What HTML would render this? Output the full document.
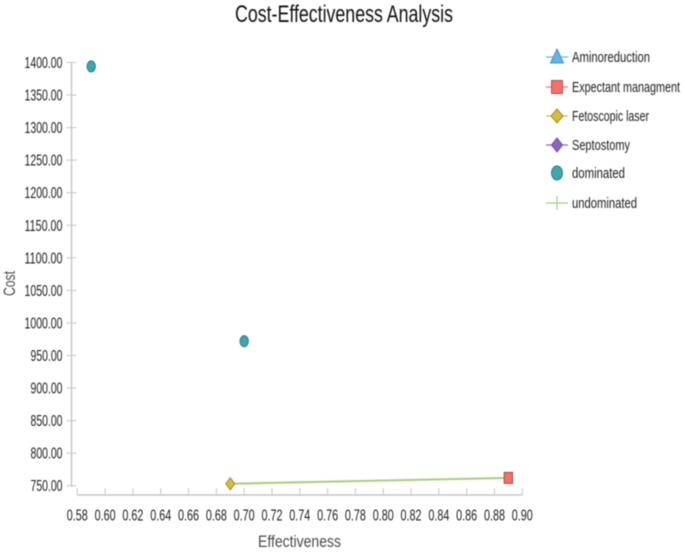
<!DOCTYPE html>
<html lang="en">
<head>
<meta charset="utf-8">
<title>Cost-Effectiveness Analysis</title>
<style>
html,body{margin:0;padding:0;background:#fff;width:685px;height:553px;overflow:hidden}
svg{display:block;font-family:"Liberation Sans",sans-serif;filter:blur(0.4px)}
text{fill:#1c1c1c}
</style>
</head>
<body>
<svg id="chart" xmlns="http://www.w3.org/2000/svg" width="685" height="553" viewBox="0 0 685 553">
<text x="235" y="22" font-size="24" textLength="218" lengthAdjust="spacingAndGlyphs" style="fill:#111">Cost-Effectiveness Analysis</text>
<text x="258" y="547" font-size="17" style="fill:#4a4a4a" textLength="83" lengthAdjust="spacingAndGlyphs">Effectiveness</text>
<text transform="translate(15,296) rotate(-90)" font-size="17" style="fill:#4a4a4a" textLength="25" lengthAdjust="spacingAndGlyphs">Cost</text>
<g id="axes"></g>
<g id="marks"></g>
<g id="legend"></g>
</svg>
<script>
const xTicks = ["0.58","0.60","0.62","0.64","0.66","0.68","0.70","0.72","0.74","0.76","0.78","0.80","0.82","0.84","0.86","0.88","0.90"];
const yTicks = ["1400.00","1350.00","1300.00","1250.00","1200.00","1150.00","1100.00","1050.00","1000.00","950.00","900.00","850.00","800.00","750.00"];
const dominatedEffect = [0.59, 0.70];
const dominatedCost = [1394, 972];
const undominatedEffect = [0.69, 0.89];
const undominatedCost = [753, 762];
const legendNames = ["Aminoreduction","Expectant managment","Fetoscopic laser","Septostomy","dominated","undominated"];

const NS = "http://www.w3.org/2000/svg";
const sx = v => 77.3 + (v - 0.58) * (522.3 - 77.3) / 0.32;
const sy = v => 485.7 - (v - 750) * (485.7 - 62.5) / 650;
function make(parent, tag, attrs, text) {
  const el = document.createElementNS(NS, tag);
  for (const k in attrs) el.setAttribute(k, attrs[k]);
  if (text !== undefined) el.textContent = text;
  parent.appendChild(el);
  return el;
}
const axes = document.getElementById("axes");
const marks = document.getElementById("marks");
const legend = document.getElementById("legend");
const AXIS = "#c6c4ca";

const yLine = make(axes, "line", {x1:71.5, x2:71.5, y1:sy(1400), y2:sy(750)+1, stroke:AXIS, "stroke-width":1.4});


const xLine = make(axes, "line", {x1:sx(0.58), x2:sx(0.90), y1:495, y2:495, stroke:AXIS, "stroke-width":1.4});



xTicks.forEach(t => {
  const x = sx(parseFloat(t));
  const tick = make(axes, "line", {x1:x, x2:x, y1:488, y2:495, stroke:AXIS, "stroke-width":1});
  
  
  const label = make(axes, "text", {x:x - 10.5, y:520.5, "font-size":15.5, textLength:21, lengthAdjust:"spacingAndGlyphs"}, t);
  
  
});
yTicks.forEach(t => {
  const y = sy(parseFloat(t));
  const tick = make(axes, "line", {x1:66.5, x2:76.5, y1:y, y2:y, stroke:AXIS, "stroke-width":1});
  
  
  const w = t.length === 7 ? 38 : 32;
  const label = make(axes, "text", {x:62.5 - w, y:y + 5.5, "font-size":15.5, textLength:w, lengthAdjust:"spacingAndGlyphs"}, t);
  
  
});

const frontier = make(marks, "polyline", {
  points: undominatedEffect.map((e, i) => sx(e) + "," + sy(undominatedCost[i])).join(" "),
  fill:"none", stroke:"#a4cf7c", "stroke-width":2
});



function diamond(parent, cx, cy, rx, ry, fill, stroke) {
  const pts = (cx) + "," + (cy - ry) + " " + (cx + rx) + "," + cy + " " + cx + "," + (cy + ry) + " " + (cx - rx) + "," + cy;
  return make(parent, "polygon", {points:pts, fill:fill, stroke:stroke, "stroke-width":1});
}
function box(parent, cx, cy, rx, ry, fill, stroke) {
  return make(parent, "rect", {x:cx-rx, y:cy-ry, width:2*rx, height:2*ry, fill:fill, stroke:stroke, "stroke-width":1});
}

dominatedEffect.forEach((e, i) => {
  const pt = make(marks, "ellipse", {cx:sx(e), cy:sy(dominatedCost[i]), rx:4.2, ry:5.5, fill:"#3fa6ad", stroke:"#2d7d86", "stroke-width":1});
  
  
});
const fetoPoint = diamond(marks, sx(undominatedEffect[0]), sy(undominatedCost[0]), 4.5, 6, "#d9bb3f", "#a08a2c");


const expPoint = box(marks, sx(undominatedEffect[1]), sy(undominatedCost[1]), 4.2, 5.5, "#f4706a", "#a84a48");



const legendY = [57, 87, 116, 145, 173, 203];
const legendWidths = [78, 108, 77, 58, 53, 65];
const legendLine = ["#62b5e8", "#f4706a", "#d9bb3f", "#8a63c4", null, "#a4cf7c"];
legendNames.forEach((name, i) => {
  const y = legendY[i];
  if (legendLine[i]) {
    const ln = make(legend, "line", {x1:546, x2:568, y1:y, y2:y, stroke:legendLine[i], "stroke-width":1.2});
    
    
  }
  let m = null;
  if (i === 0) m = make(legend, "polygon", {points:"557,49 563.5,63 550.5,63", fill:"#62b5e8", stroke:"#4a8fc0", "stroke-width":1});
  if (i === 1) m = box(legend, 557, y, 5.5, 6.5, "#f4706a", "#b5524e");
  if (i === 2) m = diamond(legend, 557, y, 6, 7, "#d9bb3f", "#a08a2c");
  if (i === 3) m = diamond(legend, 557, y, 5.5, 7, "#8a63c4", "#6a4a9c");
  if (i === 4) m = make(legend, "ellipse", {cx:557, cy:y, rx:5.5, ry:7, fill:"#3fa6ad", stroke:"#2d7d86", "stroke-width":1});
  if (i === 5) m = make(legend, "line", {x1:557, x2:557, y1:y-7, y2:y+7, stroke:"#a4cf7c", "stroke-width":1.2});
  
  
  const label = make(legend, "text", {x:572, y:y + 5, "font-size":15, textLength:legendWidths[i], lengthAdjust:"spacingAndGlyphs"}, name);
  
  
});
</script>
</body>
</html>
